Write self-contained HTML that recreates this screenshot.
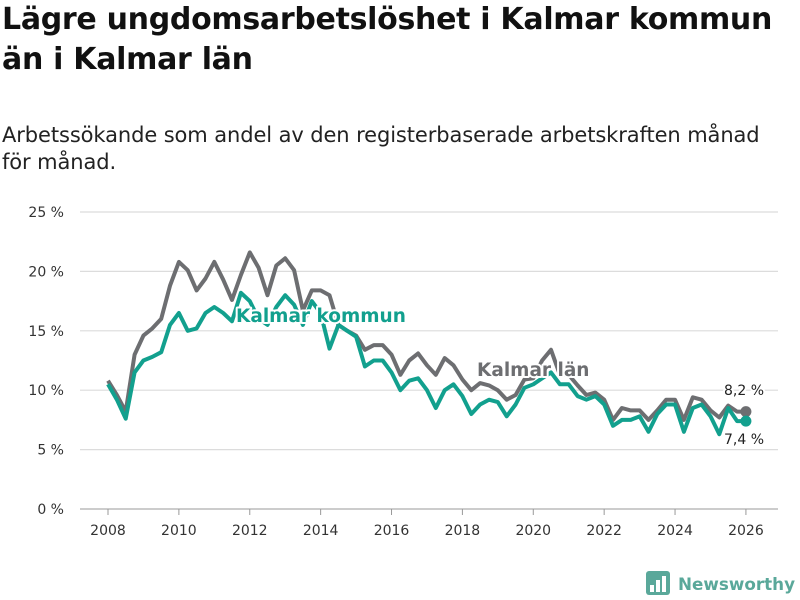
<!DOCTYPE html>
<html><head><meta charset="utf-8">
<style>
body{margin:0;width:800px;height:600px;background:#fff;overflow:hidden;font-family:"DejaVu Sans","Liberation Sans",sans-serif;color:#111}
h1{position:absolute;left:2px;top:0;margin:0;font-size:30px;line-height:40px;font-weight:700;letter-spacing:-0.3px;white-space:nowrap}
.sub{position:absolute;left:2px;top:122px;font-size:21px;line-height:27px;color:#222;white-space:nowrap;letter-spacing:-0.1px}
svg{position:absolute;left:0;top:0}
</style></head><body>
<h1>Lägre ungdomsarbetslöshet i Kalmar kommun<br>än i Kalmar län</h1>
<div class="sub">Arbetssökande som andel av den registerbaserade arbetskraften månad<br>för månad.</div>
<svg id="chart" width="800" height="600"></svg>
<script>
const yTicks=[0,5,10,15,20,25];
const yTickLabels=["0 %","5 %","10 %","15 %","20 %","25 %"];
const xTicks=[2008,2010,2012,2014,2016,2018,2020,2022,2024,2026];
const startYear=2008, stepYears=0.25;
const lan=[10.8,9.6,8.2,13,14.6,15.2,16,18.8,20.8,20.1,18.4,19.4,20.8,19.3,17.6,19.7,21.6,20.3,18,20.5,21.1,20.1,16.7,18.4,18.4,18,15.5,15,14.6,13.4,13.8,13.8,13,11.3,12.5,13.1,12.1,11.3,12.7,12.1,10.9,10,10.6,10.4,10,9.2,9.6,10.9,11,12.5,13.4,11.3,11.3,10.4,9.6,9.8,9.2,7.5,8.5,8.3,8.3,7.5,8.3,9.2,9.2,7.5,9.4,9.2,8.3,7.7,8.7,8.2,8.2];
const kommun=[10.5,9.2,7.6,11.5,12.5,12.8,13.2,15.5,16.5,15,15.2,16.5,17,16.5,15.8,18.2,17.5,16,15.5,17,18,17.2,15.5,17.5,16.5,13.5,15.5,15,14.5,12,12.5,12.5,11.5,10,10.8,11,10,8.5,10,10.5,9.5,8,8.8,9.2,9,7.8,8.8,10.2,10.5,11,11.5,10.5,10.5,9.5,9.2,9.5,8.8,7,7.5,7.5,7.8,6.5,8,8.8,8.8,6.5,8.5,8.8,7.8,6.3,8.5,7.4,7.4];
const svg=document.getElementById('chart');const NS='http://www.w3.org/2000/svg';
const X=t=>108+(t-2008)*35.44, Y=v=>509-v*11.88;
function mk(tag,attrs,parent){const e=document.createElementNS(NS,tag);for(const k in attrs)e.setAttribute(k,attrs[k]);(parent||svg).appendChild(e);return e;}
yTicks.forEach((v,i)=>{
 const g=mk('line',{x1:80,x2:778,y1:Y(v),y2:Y(v),stroke:v===0?'#bbb':'#dcdcdc','stroke-width':v===0?1.5:1.2});
 
 
 const t=mk('text',{x:64,y:Y(v)+5,'text-anchor':'end','font-size':14,fill:'#333'});
 t.textContent=yTickLabels[i];
 
 
});
xTicks.forEach(yr=>{
 const l=mk('line',{x1:X(yr),x2:X(yr),y1:509,y2:515,stroke:'#999'});
 
 
 const t=mk('text',{x:X(yr),y:535,'text-anchor':'middle','font-size':14,fill:'#333'});
 t.textContent=yr;
 
 
});
function path(arr){return arr.map((v,i)=>(i?'L':'M')+X(startYear+i*stepYears).toFixed(1)+','+Y(v).toFixed(1)).join('');}
const pl=mk('path',{d:path(lan),fill:'none',stroke:'#6d6e71','stroke-width':4,'stroke-linejoin':'round'});


const pk=mk('path',{d:path(kommun),fill:'none',stroke:'#12a08e','stroke-width':4,'stroke-linejoin':'round'});


const li=lan.length-1, ki=kommun.length-1;
const d1=mk('circle',{cx:X(startYear+li*stepYears),cy:Y(lan[li]),r:5.5,fill:'#6d6e71'});


const d2=mk('circle',{cx:X(startYear+ki*stepYears),cy:Y(kommun[ki]),r:5.5,fill:'#12a08e'});


function label(txt,x,y,fill,size,weight,name,halo){
 const t=mk('text',{x:x,y:y,'font-size':size,'font-weight':weight,fill:fill,stroke:halo?'#fff':'none','stroke-width':halo?4:0,'paint-order':'stroke','stroke-linejoin':'round'});
 t.textContent=txt;
 
 
}
label('Kalmar kommun',236,322,'#12a08e',18.5,700,'label-kalmar-kommun',true);
label('Kalmar län',477,376,'#6d6e71',18.5,700,'label-kalmar-lan',true);
label((''+lan[li]).replace('.',',')+' %',724,395,'#222',14,400,'value-label-lan',true);
label((''+kommun[ki]).replace('.',',')+' %',724,444,'#222',14,400,'value-label-kommun',true);
const lg=mk('g',{});


mk('rect',{x:646,y:571,width:24,height:24,rx:3,fill:'#5aa89a'},lg);
[[650,585,4,7],[656,580,4,12],[662,576,4,16]].forEach(b=>mk('rect',{x:b[0],y:b[1],width:b[2],height:b[3],fill:'#fff'},lg));
const lt=mk('text',{x:678,y:590,'font-size':17,'font-weight':700,fill:'#5aa89a',textLength:117,lengthAdjust:'spacingAndGlyphs'},lg);
lt.textContent='Newsworthy';
</script>
</body></html>
